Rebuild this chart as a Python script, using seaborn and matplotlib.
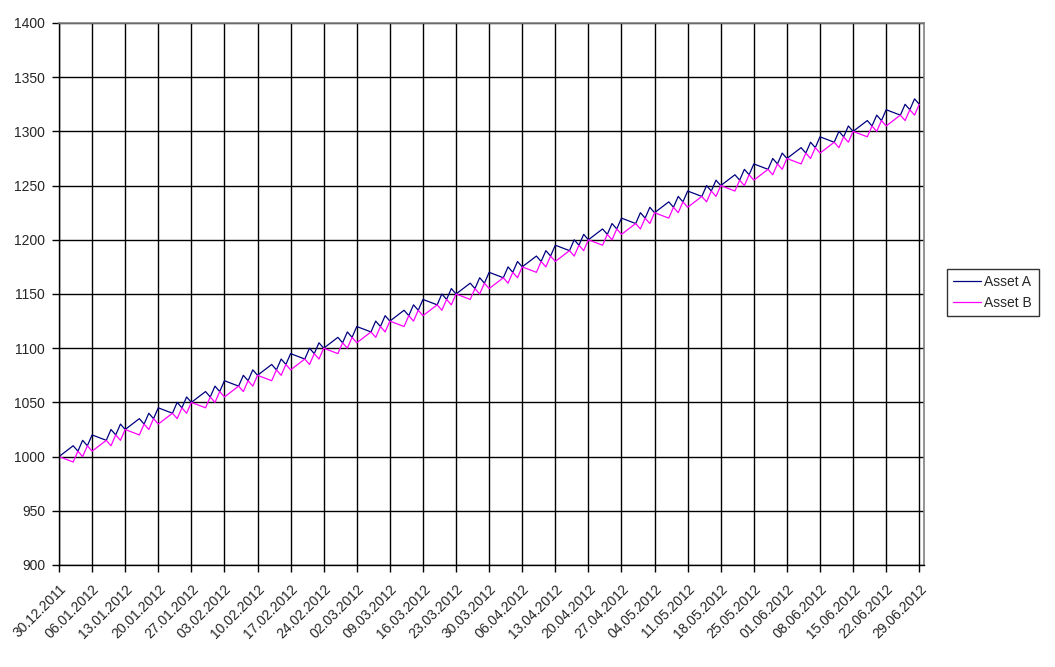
import pandas as pd
import numpy as np
import seaborn as sns
import matplotlib.pyplot as plt

# business days, first and last date
dates = pd.bdate_range("2011-12-30", "2012-06-29")

asset_a = [1000,
    1010, 1005, 1015, 1010, 1020, 1015, 1025, 1020, 1030, 1025,
    1035, 1030, 1040, 1035, 1045, 1040, 1050, 1045, 1055, 1050,
    1060, 1055, 1065, 1060, 1070, 1065, 1075, 1070, 1080, 1075,
    1085, 1080, 1090, 1085, 1095, 1090, 1100, 1095, 1105, 1100,
    1110, 1105, 1115, 1110, 1120, 1115, 1125, 1120, 1130, 1125,
    1135, 1130, 1140, 1135, 1145, 1140, 1150, 1145, 1155, 1150,
    1160, 1155, 1165, 1160, 1170, 1165, 1175, 1170, 1180, 1175,
    1185, 1180, 1190, 1185, 1195, 1190, 1200, 1195, 1205, 1200,
    1210, 1205, 1215, 1210, 1220, 1215, 1225, 1220, 1230, 1225,
    1235, 1230, 1240, 1235, 1245, 1240, 1250, 1245, 1255, 1250,
    1260, 1255, 1265, 1260, 1270, 1265, 1275, 1270, 1280, 1275,
    1285, 1280, 1290, 1285, 1295, 1290, 1300, 1295, 1305, 1300,
    1310, 1305, 1315, 1310, 1320, 1315, 1325, 1320, 1330, 1325]

asset_b = [1000,
    995, 1005, 1000, 1010, 1005, 1015, 1010, 1020, 1015, 1025,
    1020, 1030, 1025, 1035, 1030, 1040, 1035, 1045, 1040, 1050,
    1045, 1055, 1050, 1060, 1055, 1065, 1060, 1070, 1065, 1075,
    1070, 1080, 1075, 1085, 1080, 1090, 1085, 1095, 1090, 1100,
    1095, 1105, 1100, 1110, 1105, 1115, 1110, 1120, 1115, 1125,
    1120, 1130, 1125, 1135, 1130, 1140, 1135, 1145, 1140, 1150,
    1145, 1155, 1150, 1160, 1155, 1165, 1160, 1170, 1165, 1175,
    1170, 1180, 1175, 1185, 1180, 1190, 1185, 1195, 1190, 1200,
    1195, 1205, 1200, 1210, 1205, 1215, 1210, 1220, 1215, 1225,
    1220, 1230, 1225, 1235, 1230, 1240, 1235, 1245, 1240, 1250,
    1245, 1255, 1250, 1260, 1255, 1265, 1260, 1270, 1265, 1275,
    1270, 1280, 1275, 1285, 1280, 1290, 1285, 1295, 1290, 1300,
    1295, 1305, 1300, 1310, 1305, 1315, 1310, 1320, 1315, 1325]

series_names = ["Asset A", "Asset B"]
colors = ["#000080", "#FF00FF"]

df = pd.DataFrame({"Date": dates, "Asset A": asset_a, "Asset B": asset_b})
long = df.melt(id_vars="Date", var_name="Series", value_name="Value")

sns.set_style("white")
plt.rcParams["font.family"] = ["Liberation Sans", "DejaVu Sans"]

fig = plt.figure(figsize=(10.55, 6.67), dpi=100)
ax = fig.add_axes([59 / 1055, 1 - 565 / 667, (924 - 59) / 1055, (565 - 23) / 667])

sns.lineplot(data=long, x="Date", y="Value", hue="Series", hue_order=series_names,
             palette=colors, linewidth=0.9, ax=ax, legend=False)

# weekly ticks
week_ticks = pd.date_range(dates[0], dates[-1], freq="7D")
ax.set_xticks(week_ticks)
ax.set_xticklabels([d.strftime("%d.%m.%Y") for d in week_ticks], rotation=45,
                   ha="right", rotation_mode="anchor", fontsize=10)
ax.set_xlim(dates[0], dates[-1] + pd.Timedelta(days=1))
ax.set_ylim(900, 1400)
ax.set_yticks(np.arange(900, 1401, 50))
ax.tick_params(axis="y", labelsize=10, length=5, width=1, color="black", pad=5, direction="out", left=True)
ax.tick_params(axis="x", length=5, width=1, color="black", pad=7, direction="out", bottom=True)
ax.set_xlabel("")
ax.set_ylabel("")

ax.grid(True, color="black", linewidth=1)
ax.set_axisbelow(True)
for side in ["left", "bottom"]:
    ax.spines[side].set_color("black")
    ax.spines[side].set_linewidth(1)
for side in ["top", "right"]:
    ax.spines[side].set_color("#808080")
    ax.spines[side].set_linewidth(1.2)

handles = [plt.Line2D([], [], color=c, linewidth=0.9) for c in colors]
leg = fig.legend(handles, series_names, loc="upper left",
                 bbox_to_anchor=(947 / 1055, 1 - 269 / 667), frameon=True,
                 fancybox=False, edgecolor="black", fontsize=10, handlelength=2.0,
                 borderpad=0.45, labelspacing=0.45, handletextpad=0.25,
                 borderaxespad=0)
leg.get_frame().set_linewidth(1)

plt.savefig("out.png", dpi=100)
